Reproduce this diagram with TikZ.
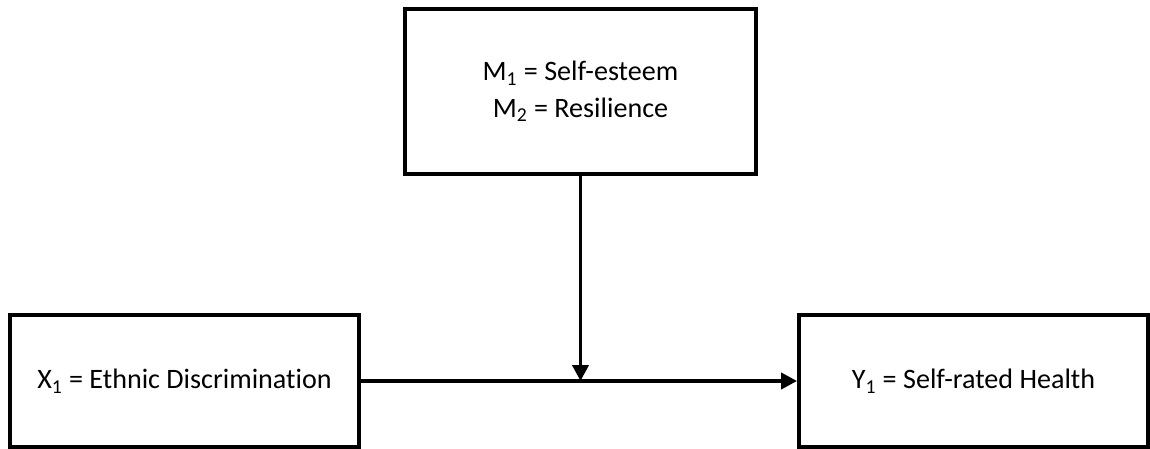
\documentclass[tikz,border=0pt]{standalone}
\usepackage{fontspec}
\setmainfont{Carlito}[Ligatures=NoCommon]
\usetikzlibrary{arrows.meta}
\tikzset{>={Triangle[length=.32cm,width=.32cm]},
  every node/.style={font=\fontsize{16}{21}\selectfont},
  varbox/.style={draw,rectangle,line width=2.2pt,minimum width=6.98cm,minimum height=2.64cm,align=center},
  link/.style={->,line width=2.2pt}}
\begin{document}
\begin{tikzpicture}
\useasboundingbox (0,0) rectangle (23,-8.98);
\node[varbox,minimum width=7.02cm,minimum height=3.3cm] (med) at (11.61,-1.83) {M\textsubscript{1} = Self-esteem\\M\textsubscript{2} = Resilience};
\node[varbox] (x1) at (3.69,-7.62) {X\textsubscript{1} = Ethnic Discrimination};
\node[varbox] (y1) at (19.47,-7.62) {Y\textsubscript{1} = Self-rated Health};
\coordinate (join) at (med.south |- x1.east);
\draw[link] (x1)--(y1);\draw[link] (med)--(join);
\end{tikzpicture}
\end{document}
